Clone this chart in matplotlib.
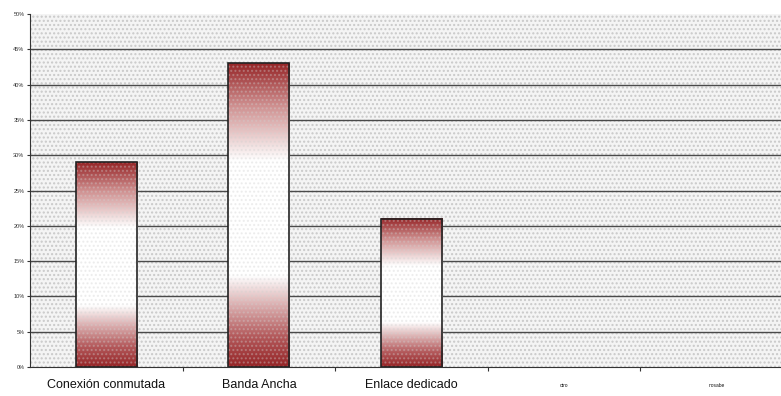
import numpy as np
import matplotlib.pyplot as plt
from matplotlib.colors import LinearSegmentedColormap
from matplotlib.patches import Rectangle

categories = ["Conexión conmutada", "Banda Ancha", "Enlace dedicado", "otro", "nosabe"]
values = [29, 43, 21, 0, 0]
yticks = [0, 5, 10, 15, 20, 25, 30, 35, 40, 45, 50]
ytick_labels = ["%d%%" % t for t in yticks]

plt.rcParams['font.family'] = ['Liberation Sans', 'DejaVu Sans']

# dark red at both ends, white in the middle
fade = LinearSegmentedColormap.from_list(
    "fade", [(0.0, "#962527"), (0.1, "#b45a5c"), (0.3, "#ffffff"),
             (0.68, "#ffffff"), (0.86, "#cf9090"), (1.0, "#962527")])

fig = plt.figure(figsize=(7.81, 3.96), dpi=100)
ax = fig.add_axes([0.0384, 0.0732, 0.977, 0.8914])
ax.set_facecolor("#f4f4f4")

# dotted paper texture behind everything
ax.add_patch(Rectangle((0, 0), 1, 1, transform=ax.transAxes, facecolor="none",
                       edgecolor="#c9c9c9", hatch="....", lw=0, zorder=0))

x = np.arange(len(categories))
width = 0.4

for t in yticks[1:-1]:
    ax.axhline(t, color="#4a4a4a", lw=1.0, zorder=1)

grad = np.linspace(0, 1, 256).reshape(-1, 1)
for xi, v in zip(x, values):
    if v <= 0:
        continue
    ax.imshow(grad, cmap=fade, aspect="auto", origin="lower",
              extent=(xi - width / 2, xi + width / 2, 0, v), zorder=2)
    ax.add_patch(Rectangle((xi - width / 2, 0), width, v, facecolor="none",
                           edgecolor="#d0d0d0", hatch="....", lw=0, zorder=3, alpha=0.35))
    ax.add_patch(Rectangle((xi - width / 2, 0), width, v, facecolor="none",
                           edgecolor="#222222", lw=1.2, zorder=4))

ax.set_xlim(-0.5, len(categories) - 0.5)
ax.set_ylim(0, 50)
ax.set_yticks(yticks)
ax.set_yticklabels(ytick_labels, fontsize=4, color="#333333")
ax.set_xticks(x + 0.5)
ax.set_xticklabels([])
ax.tick_params(axis="x", length=3, color="#333333")
ax.tick_params(axis="y", length=2, color="#333333", pad=2)

for xi, name in zip(x, categories):
    size = 9 if xi < 3 else 3.5
    ax.text(xi, -2.6, name, ha="center", va="center", fontsize=size, color="#111111",
            clip_on=False)

for side in ("top", "right"):
    ax.spines[side].set_visible(False)
ax.spines["left"].set_color("#333333")
ax.spines["bottom"].set_color("#333333")

fig.savefig("out.png", dpi=100)
